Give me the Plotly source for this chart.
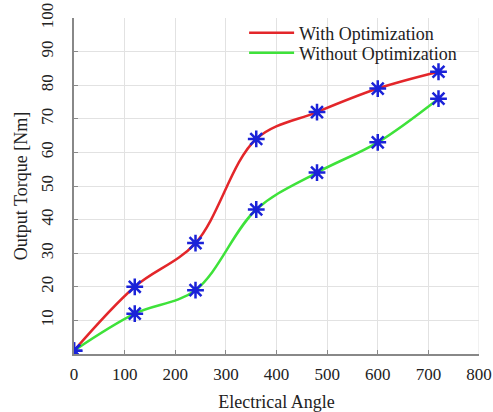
import plotly.graph_objects as go

angle = [0, 120, 240, 360, 480, 600, 720]
with_opt = [1, 20, 33, 64, 72, 79, 84]
without_opt = [1, 12, 19, 43, 54, 63, 76]
x_ticks = [0, 100, 200, 300, 400, 500, 600, 700, 800]
y_ticks = [10, 20, 30, 40, 50, 60, 70, 80, 90, 100]

FONT = "Liberation Serif, Times New Roman, serif"
fig = go.Figure()
fig.add_trace(go.Scatter(x=angle, y=with_opt, mode="lines", name="With Optimization", legend="legend",
                         line=dict(color="#e3262a", width=2.5, shape="spline", smoothing=1.0)))
fig.add_trace(go.Scatter(x=angle, y=without_opt, mode="lines", name="Without Optimization", legend="legend2",
                         line=dict(color="#3ee23a", width=2.5, shape="spline", smoothing=1.0)))
for ys in (with_opt, without_opt):
    fig.add_trace(go.Scatter(x=angle, y=ys, mode="markers", showlegend=False,
                             marker=dict(symbol="asterisk-open", size=14, color="#1a22d8",
                                         line=dict(color="#1a22d8", width=2.5))))

leg = dict(xanchor="left", yanchor="middle", bgcolor="rgba(255,255,255,0)",
           font=dict(family=FONT, size=18, color="#222"), itemwidth=45,
           borderwidth=0)
fig.update_layout(
    width=493, height=412,
    margin=dict(l=74, r=14, t=18, b=58),
    paper_bgcolor="white", plot_bgcolor="white",
    font=dict(family=FONT, size=17, color="#222"),
    legend=dict(leg, x=0.42, y=0.955),
    legend2=dict(leg, x=0.42, y=0.896),
    xaxis=dict(range=[0, 800], tickvals=x_ticks, showgrid=True, gridcolor="#e2e2e2",
               showline=True, linecolor="#888", linewidth=1.5, ticks="inside", ticklen=4,
               tickcolor="#888", zeroline=False, mirror=False, automargin=False,
               ticklabelstandoff=4,
               title=dict(text="Electrical Angle", font=dict(family=FONT, size=18), standoff=12)),
    yaxis=dict(range=[0, 100], tickvals=y_ticks, showgrid=True, gridcolor="#e2e2e2",
               showline=True, linecolor="#888", linewidth=1.5, ticks="inside", ticklen=4,
               tickcolor="#888", zeroline=False, tickangle=-90, automargin=False,
               ticklabelstandoff=12,
               title=dict(text="Output Torque [Nm]", font=dict(family=FONT, size=18), standoff=6)),
)
fig.add_shape(type="line", xref="x", yref="y", x0=800, x1=800, y0=0, y1=100,
              line=dict(color="#e2e2e2", width=1), layer="below")
fig.write_html("out.html", config={"displayModeBar": False},
               post_script="document.body.style.margin='0';")
